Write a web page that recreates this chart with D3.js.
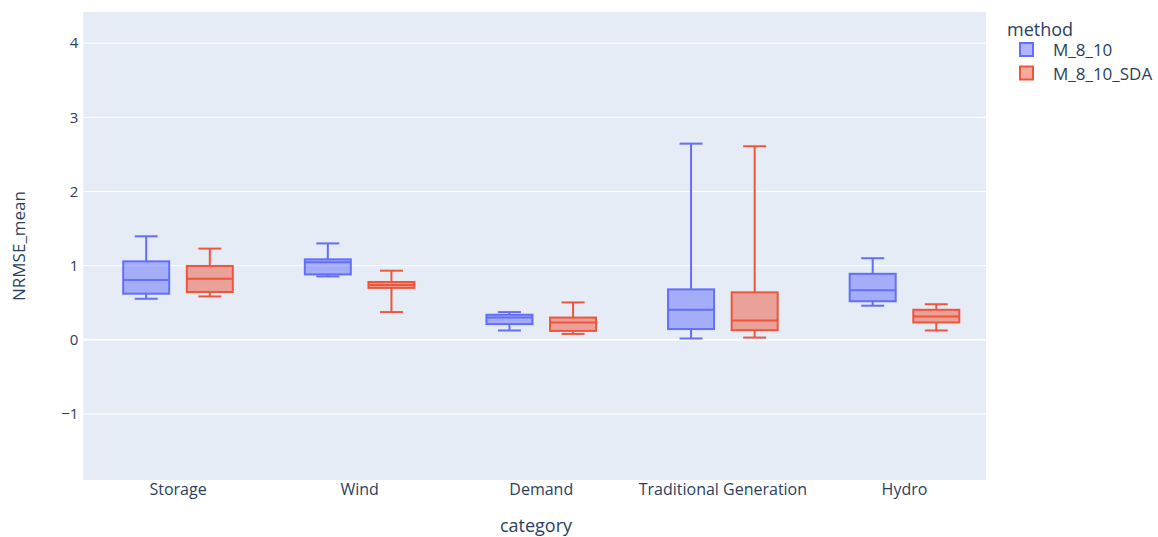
<!DOCTYPE html>
<html><head><meta charset="utf-8">
<script src="https://cdn.jsdelivr.net/npm/d3@7"></script>
<style>body{margin:0;background:#fff}svg text{font-family:"Open Sans",sans-serif;fill:#2a3f5f}</style>
</head><body><svg id="c" width="1158" height="537"></svg>
<script>
const categories = ["Storage","Wind","Demand","Traditional Generation","Hydro"];
const methods = ["M_8_10","M_8_10_SDA"];
const colors = ["#636efa","#EF553B"];
// [lowerWhisker, Q1, median, Q3, upperWhisker]
const M_8_10 = [
  [0.554,0.622,0.807,1.058,1.396],
  [0.855,0.882,1.045,1.085,1.30],
  [0.126,0.212,0.30,0.338,0.374],
  [0.018,0.145,0.405,0.68,2.645],
  [0.46,0.52,0.67,0.89,1.10]
];
const M_8_10_SDA = [
  [0.585,0.645,0.824,0.996,1.23],
  [0.374,0.70,0.74,0.78,0.932],
  [0.08,0.12,0.234,0.30,0.504],
  [0.03,0.13,0.26,0.64,2.61],
  [0.126,0.234,0.315,0.405,0.48]
];
const yTicks = [-1,0,1,2,3,4];
const series = [M_8_10, M_8_10_SDA];

const svg = d3.select("#c");
const plot = {l:83.3, t:12, r:986, b:480};
svg.append("rect").attr("x",plot.l).attr("y",plot.t).attr("width",plot.r-plot.l).attr("height",plot.b-plot.t).attr("fill","#E5ECF6");

const y = d3.scaleLinear().domain([-1.89,4.42]).range([plot.b,plot.t]);
const x = d3.scaleBand().domain(categories).range([87.2,995.3]);
const xg = d3.scaleBand().domain(methods).range([0,x.bandwidth()]).paddingInner(0.277).paddingOuter(0.566);
// gridlines
svg.append("g").selectAll("line").data(yTicks).join("line")
  .attr("x1",plot.l).attr("x2",plot.r).attr("y1",d=>y(d)).attr("y2",d=>y(d))
  .attr("stroke","#fff").attr("stroke-width",d=>d===0?2:1);
// y axis
const yAxis = d3.axisLeft(y).tickValues(yTicks).tickSize(0).tickPadding(5).tickFormat(d=>d<0?"\u2212"+Math.abs(d):d);
const ya = svg.append("g").attr("transform",`translate(${plot.l},0)`).call(yAxis);
ya.select(".domain").remove();
ya.selectAll("text").attr("font-size",15).attr("fill","#2a3f5f").attr("font-family","Open Sans");
// x axis
const xAxis = d3.axisBottom(x).tickSize(0).tickPadding(4);
const xa = svg.append("g").attr("transform",`translate(0,${plot.b})`).call(xAxis);
xa.select(".domain").remove();
xa.selectAll("text").attr("font-size",16).attr("fill","#2a3f5f").attr("font-family","Open Sans");

// boxes
series.forEach((ser,si)=>{
  const g = svg.append("g");
  const col = colors[si];
  ser.forEach((s,ci)=>{
    const bw = xg.bandwidth();
    const x0 = x(categories[ci]) + xg(methods[si]);
    const cx = x0 + bw/2;
    const [lo,q1,med,q3,hi] = s;
    g.append("rect").attr("x",x0).attr("y",y(q3)).attr("width",bw).attr("height",y(q1)-y(q3))
      .attr("fill",col).attr("fill-opacity",0.5).attr("stroke",col).attr("stroke-width",2);
    const ln=(a,b,c,d)=>g.append("line").attr("x1",a).attr("y1",b).attr("x2",c).attr("y2",d).attr("stroke",col).attr("stroke-width",2);
    ln(x0,y(med),x0+bw,y(med));
    ln(cx,y(q3),cx,y(hi));
    ln(cx,y(q1),cx,y(lo));
    ln(cx-bw/4,y(hi),cx+bw/4,y(hi));
    ln(cx-bw/4,y(lo),cx+bw/4,y(lo));
  });
});

// axis titles
svg.append("text").attr("x",536).attr("y",532).attr("text-anchor","middle").attr("font-size",18).text("category");
svg.append("text").attr("transform",`translate(25,${(plot.t+plot.b)/2}) rotate(-90)`).attr("text-anchor","middle").attr("font-size",17).text("NRMSE_mean");

// legend
const lg = svg.append("g");
lg.append("text").attr("x",1007).attr("y",36).attr("font-size",18).text("method");
methods.forEach((m,i)=>{
  const yy = 50 + i*23.5;
  lg.append("rect").attr("x",1020).attr("y",yy-7).attr("width",13).attr("height",13)
    .attr("fill",colors[i]).attr("fill-opacity",0.5).attr("stroke",colors[i]).attr("stroke-width",2);
  lg.append("text").attr("x",1053).attr("y",yy+6).attr("font-size",17).text(m);
});
</script></body></html>
